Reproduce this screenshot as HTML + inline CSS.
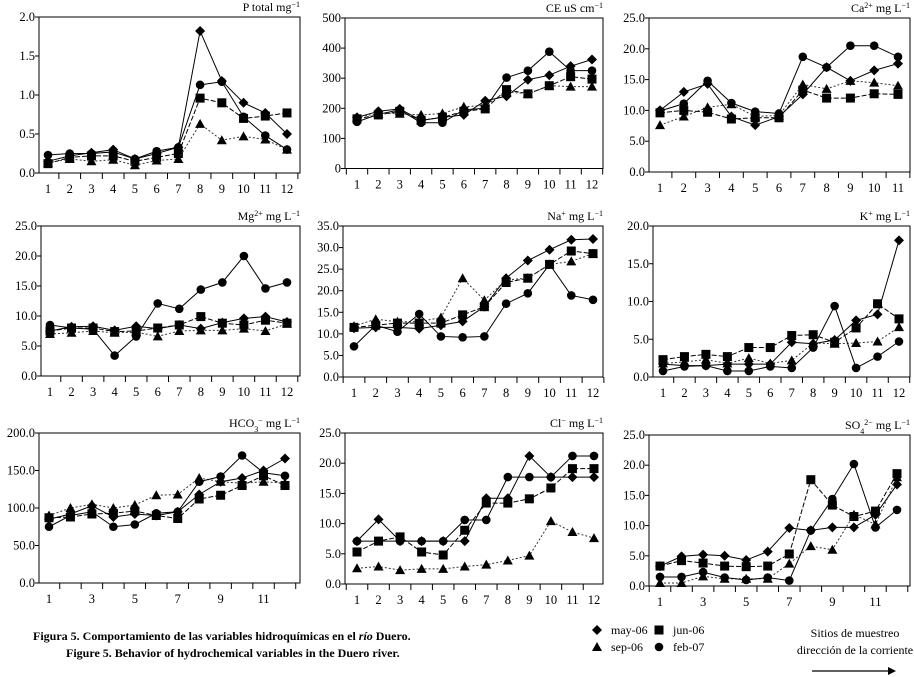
<!DOCTYPE html>
<html><head><meta charset="utf-8"><style>
body{margin:0;background:#fff}
svg{display:block;font-family:"Liberation Serif",serif}
</style></head><body>
<svg id="c" width="914" height="677"></svg>
<script>
const seriesNames=["may-06","jun-06","sep-06","feb-07"];
const pMay=[0.15,0.22,0.26,0.30,0.18,0.25,0.33,1.82,1.18,0.90,0.77,0.50];
const pJun=[0.12,0.20,0.22,0.22,0.15,0.20,0.25,0.96,0.90,0.70,0.73,0.77];
const pSep=[0.13,0.18,0.15,0.17,0.10,0.16,0.18,0.63,0.42,0.47,0.43,0.30];
const pFeb=[0.23,0.25,0.25,0.27,0.18,0.28,0.33,1.13,1.17,0.72,0.48,0.30];
const ceMay=[170,190,198,160,170,178,225,240,295,310,340,362];
const ceJun=[165,178,190,160,170,190,198,262,248,275,305,297];
const ceSep=[170,183,182,178,183,205,210,255,248,275,272,272];
const ceFeb=[155,180,195,152,152,195,200,302,325,388,325,325];
const caMay=[10,13,14.3,9,7.6,9,12.6,17,14.8,16.5,17.6];
const caJun=[9.6,10,9.7,8.6,8.8,8.8,13.3,12,12,12.7,12.6];
const caSep=[7.6,9,10.5,11,9,9.2,14.2,13.5,14.8,14.5,14];
const caFeb=[9.9,11.1,14.8,11.2,9.8,9.5,18.7,17,20.5,20.5,18.7];
const mgMay=[7.5,8.2,8.3,7.6,8.3,7.9,8.5,7.9,8.9,9.6,9.9,9.0];
const mgJun=[7.5,8,8,7.4,7.5,8,8.5,9.9,8.8,8.5,9.3,8.8];
const mgSep=[7,7.2,7.5,7.2,7.3,6.6,7.5,7.6,7.6,7.9,7.5,8.7];
const mgFeb=[8.5,8.0,7.8,3.4,6.6,12.1,11.2,14.4,15.6,20,14.6,15.6];
const naMay=[11.3,11.5,11.5,11.2,12.0,12.9,16.3,22.9,27,29.5,31.8,32];
const naJun=[11.5,12,12.5,12.5,12.5,14.4,16.3,21.9,22.9,26.1,29.2,28.6];
const naSep=[11.8,13.4,12.8,12.8,13.8,22.9,17.8,22.5,22.9,26.1,26.8,28.6];
const naFeb=[7.1,12,10.5,14.6,9.4,9.2,9.4,17.0,19.4,26.1,18.9,17.9];
const kMay=[1.7,1.5,1.5,1.7,1.7,1.7,4.6,4.4,4.9,7.5,8.3,18.1];
const kJun=[2.3,2.7,3.0,2.7,3.9,3.9,5.5,5.6,4.6,6.5,9.7,7.7];
const kSep=[1.8,2.0,2.3,1.8,2.5,1.8,2.2,4.5,4.4,4.5,4.7,6.6];
const kFeb=[0.8,1.4,1.5,0.8,0.8,1.4,1.2,3.9,9.4,1.2,2.7,4.7];
const hcMay=[85,92,103,88,92,90,95,118,135,140,150,166];
const hcJun=[87,88,92,93,96,90,86,112,117,130,143,130];
const hcSep=[90,100,105,100,104,117,118,140,135,133,135,133];
const hcFeb=[75,90,95,75,78,93,95,135,142,170,147,143];
const clMay=[7.1,10.7,7.1,7.1,7.1,7.1,14.2,14.2,21.2,17.7,17.7,17.7];
const clJun=[5.3,7.1,7.8,5.3,4.8,8.9,13.4,13.4,14.1,15.9,19.1,19.1];
const clSep=[2.6,2.9,2.3,2.5,2.5,2.9,3.2,3.9,4.7,10.4,8.6,7.6];
const clFeb=[7.1,7.1,7.1,7.1,7.1,10.6,10.6,17.7,17.7,17.7,21.2,21.2];
const soMay=[3.3,4.9,5.2,5.0,4.3,5.7,9.6,9.2,9.7,9.7,11.8,16.8];
const soJun=[3.3,4.2,3.8,3.3,3.2,3.3,5.3,17.6,13.4,11.5,12.4,18.6];
const soSep=[0.5,0.5,1.6,1.2,1.2,1.2,3.7,6.6,6.0,11.8,10.2,18.0];
const soFeb=[1.5,1.5,2.3,1.4,1.0,1.4,0.9,9.2,14.4,20.2,9.7,12.6];

const NS="http://www.w3.org/2000/svg";
const svg=document.getElementById('c');
function mk(tag,attrs,parent){const e=document.createElementNS(NS,tag);for(const k in attrs)e.setAttribute(k,attrs[k]);(parent||svg).appendChild(e);return e;}

const panels=[
 {id:"p-total",title:"P total mg<tspan baseline-shift='super' font-size='8'>−1</tspan>",L:39,R:300,T:17,B:173,max:2,step:0.5,dec:1,x1:48,xn:287,odd:false,d:[pMay,pJun,pSep,pFeb]},
 {id:"ce",title:"CE uS cm<tspan baseline-shift='super' font-size='8'>−1</tspan>",L:345,R:603,T:18,B:168.5,max:500,step:100,dec:0,x1:357,xn:592,odd:false,d:[ceMay,ceJun,ceSep,ceFeb]},
 {id:"ca",title:"Ca<tspan baseline-shift='super' font-size='8'>2+</tspan> mg L<tspan baseline-shift='super' font-size='8'>−1</tspan>",L:649,R:910,T:18,B:172,max:25,step:5,dec:1,x1:660,xn:898,odd:false,d:[caMay,caJun,caSep,caFeb]},
 {id:"mg",title:"Mg<tspan baseline-shift='super' font-size='8'>2+</tspan> mg L<tspan baseline-shift='super' font-size='8'>−1</tspan>",L:41,R:300,T:226,B:376,max:25,step:5,dec:1,x1:50,xn:287,odd:false,d:[mgMay,mgJun,mgSep,mgFeb]},
 {id:"na",title:"Na<tspan baseline-shift='super' font-size='8'>+</tspan> mg L<tspan baseline-shift='super' font-size='8'>−1</tspan>",L:343,R:603,T:226,B:377,max:35,step:5,dec:1,x1:354,xn:593,odd:false,d:[naMay,naJun,naSep,naFeb]},
 {id:"k",title:"K<tspan baseline-shift='super' font-size='8'>+</tspan> mg L<tspan baseline-shift='super' font-size='8'>−1</tspan>",L:653,R:910,T:226,B:377,max:20,step:5,dec:1,x1:663,xn:899,odd:false,d:[kMay,kJun,kSep,kFeb]},
 {id:"hco3",title:"HCO<tspan baseline-shift='sub' font-size='8'>3</tspan><tspan font-size='8' baseline-shift='super'>−</tspan>  mg L<tspan baseline-shift='super' font-size='8'>−1</tspan>",L:39,R:300,T:433,B:583,max:200,step:50,dec:1,x1:49,xn:285,odd:true,d:[hcMay,hcJun,hcSep,hcFeb]},
 {id:"cl",title:"Cl<tspan baseline-shift='super' font-size='8'>−</tspan> mg L<tspan baseline-shift='super' font-size='8'>−1</tspan>",L:345,R:603,T:433,B:584,max:25,step:5,dec:1,x1:357,xn:594,odd:false,d:[clMay,clJun,clSep,clFeb]},
 {id:"so4",title:"SO<tspan baseline-shift='sub' font-size='8'>4</tspan><tspan font-size='8' baseline-shift='super'>2−</tspan>  mg L<tspan baseline-shift='super' font-size='8'>−1</tspan>",L:649,R:910,T:435,B:586,max:25,step:5,dec:1,x1:660,xn:897,odd:true,d:[soMay,soJun,soSep,soFeb]}
];
const dashes=["none","5 2","2 2","none"];
const shapes=["diamond","square","triangle","circle"];
function marker(g,s,x,y){
 let e;
 if(s==="diamond") e=mk('polygon',{points:`${x},${y-5} ${x+5},${y} ${x},${y+5} ${x-5},${y}`,fill:'#000'},g);
 else if(s==="square") e=mk('rect',{x:x-4.5,y:y-4.5,width:9,height:9,fill:'#000'},g);
 else if(s==="triangle") e=mk('polygon',{points:`${x},${y-5} ${x+5},${y+4} ${x-5},${y+4}`,fill:'#000'},g);
 else e=mk('circle',{cx:x,cy:y,r:4.3,fill:'#000'},g);
 return e;
}
panels.forEach(p=>{
 const g=mk('g',{});
 
 
 const n=p.d[0].length;
 const xs=i=>p.x1+(p.xn-p.x1)*i/(n-1);
 const ys=v=>p.B-(p.B-p.T)*v/p.max;
 const stepX=(p.xn-p.x1)/(n-1);
 const box=mk('rect',{x:p.L,y:p.T,width:p.R-p.L,height:p.B-p.T,fill:'none',stroke:'#000','stroke-width':1},g);
 
 
 for(let v=0;v<=p.max+1e-9;v+=p.step){
  const y=ys(v);
  mk('line',{x1:p.L-4,y1:y,x2:p.L,y2:y,stroke:'#000'},g);
  const t=mk('text',{x:p.L-4,y:y+4,'text-anchor':'end','font-size':12.5,fill:'#000'},g);
  t.textContent=v.toFixed(p.dec);
  
  
 }
 for(let i=0;i<=n;i++){
  const x=p.x1+stepX*(i-0.5);
  if(x>=p.L&&x<=p.R+1) mk('line',{x1:x,y1:p.B,x2:x,y2:p.B+6,stroke:'#000'},g);
 }
 for(let i=0;i<n;i++){
  if(p.odd&&i%2===1) continue;
  const t=mk('text',{x:xs(i),y:p.B+20,'text-anchor':'middle','font-size':12.5,fill:'#000'},g);
  t.textContent=String(i+1);
  
  
 }
 const tt=mk('text',{x:p.R,y:p.T-6,'text-anchor':'end','font-size':12,fill:'#000'},g);
 tt.innerHTML=p.title;
 
 
 p.d.forEach((arr,si)=>{
  const pts=arr.map((v,i)=>xs(i)+","+ys(v)).join(" ");
  const l=mk('polyline',{points:pts,fill:'none',stroke:si===2?'#333':'#000','stroke-width':1,'stroke-dasharray':dashes[si]},g);
  
  
  arr.forEach((v,i)=>{
   const m=marker(g,shapes[si],xs(i),ys(v));
   
   
  });
 });
});
const lg=mk('g',{});


const lpos=[[597,634],[659,634],[597,651],[659,651]];
seriesNames.forEach((nm,i)=>{
 const m=marker(lg,shapes[i],lpos[i][0],lpos[i][1]-4);
 
 
 const t=mk('text',{x:lpos[i][0]+14,y:lpos[i][1],'font-size':12},lg);
 t.textContent=nm;
 
 
});
</script>
<div style="position:absolute;left:0;top:0;width:914px;height:677px;pointer-events:none;font-family:'Liberation Serif',serif">
 <div style="position:absolute;left:33px;top:629px;font-size:12px;font-weight:bold;white-space:nowrap">Figura 5. Comportamiento de las variables hidroquímicas en el <i>río</i> Duero.</div>
 <div style="position:absolute;left:66px;top:646px;font-size:12px;font-weight:bold;white-space:nowrap">Figure 5. Behavior of hydrochemical variables in the Duero river.</div>
 <div style="position:absolute;left:795px;top:625px;width:120px;text-align:center;font-size:12px;line-height:17px;white-space:nowrap">Sitios de muestreo<br>dirección de la corriente</div>
 <svg style="position:absolute;left:810px;top:665px" width="90" height="12"><line x1="2" y1="6" x2="80" y2="6" stroke="#000" stroke-width="1.2"/><polygon points="78,2 86,6 78,10" fill="#000"/></svg>
</div>
</body></html>
